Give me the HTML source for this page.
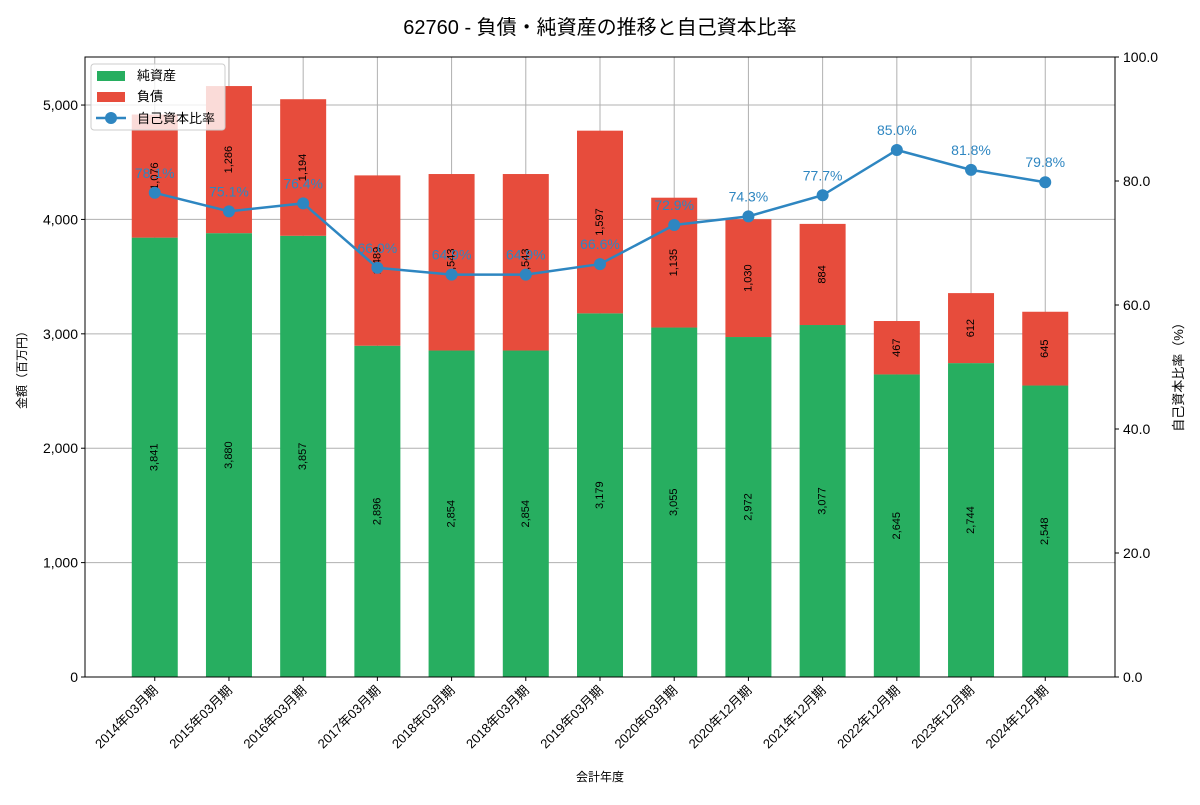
<!DOCTYPE html>
<html><head><meta charset="utf-8"><style>
body{margin:0;background:#fff;}
svg text{font-family:"Liberation Sans","Noto Sans CJK JP",sans-serif;}
</style></head><body>
<svg id="c" width="1200" height="800" xmlns="http://www.w3.org/2000/svg">
<text x="600" y="34" text-anchor="middle" font-size="20">62760 - 負債・純資産の推移と自己資本比率</text>
<g id="grid"></g><g id="bars"></g><g id="line"></g><g id="axes"></g>
</svg>
<script>
const categories=["2014年03月期","2015年03月期","2016年03月期","2017年03月期","2018年03月期","2018年03月期","2019年03月期","2020年03月期","2020年12月期","2021年12月期","2022年12月期","2023年12月期","2024年12月期"];
const equity=[3841,3880,3857,2896,2854,2854,3179,3055,2972,3077,2645,2744,2548];
const debt=[1076,1286,1194,1489,1543,1543,1597,1135,1030,884,467,612,645];
const ratio=[78.1,75.1,76.4,66.0,64.9,64.9,66.6,72.9,74.3,77.7,85.0,81.8,79.8];
const leftTicks=[0,1000,2000,3000,4000,5000];
const rightTicks=[0,20,40,60,80,100];
const L=85,R=1115,T=57,B=677;
const NS="http://www.w3.org/2000/svg";
const x=i=>L+(i+0.94)*(R-L)/13.88;
const y=v=>B-v*(B-T)/5420;
const yr=v=>B-v*(B-T)/100;
const bw=46;
function mk(tag,attrs,parent,txt){const e=document.createElementNS(NS,tag);for(const k in attrs)e.setAttribute(k,attrs[k]);if(txt!==undefined)e.textContent=txt;document.getElementById(parent)?document.getElementById(parent).appendChild(e):parent.appendChild(e);return e;}
const fmt=v=>v.toLocaleString("en-US");
// grid
leftTicks.forEach(t=>{const g=mk("line",{x1:L,x2:R,y1:y(t),y2:y(t),stroke:"#b0b0b0","stroke-width":1},"grid");

});
categories.forEach((c,i)=>{const g=mk("line",{x1:x(i),x2:x(i),y1:T,y2:B,stroke:"#b0b0b0","stroke-width":1},"grid");

});
// bars
categories.forEach((c,i)=>{
const r1=mk("rect",{x:x(i)-bw/2,y:y(equity[i]),width:bw,height:B-y(equity[i]),fill:"#27ae60"},"bars");


const r2=mk("rect",{x:x(i)-bw/2,y:y(equity[i]+debt[i]),width:bw,height:y(equity[i])-y(equity[i]+debt[i]),fill:"#e74c3c"},"bars");


const ye=y(equity[i]/2),yd=y(equity[i]+debt[i]/2);
const t1=mk("text",{x:x(i),y:ye,"font-size":11,"text-anchor":"middle","dominant-baseline":"central",transform:`rotate(-90 ${x(i)} ${ye})`},"bars",fmt(equity[i]));


const t2=mk("text",{x:x(i),y:yd,"font-size":11,"text-anchor":"middle","dominant-baseline":"central",transform:`rotate(-90 ${x(i)} ${yd})`},"bars",fmt(debt[i]));


});
// line
const pl=mk("polyline",{points:ratio.map((v,i)=>x(i)+","+yr(v)).join(" "),fill:"none",stroke:"#2e86c1","stroke-width":2.5},"line");


ratio.forEach((v,i)=>{
const c=mk("circle",{cx:x(i),cy:yr(v),r:6,fill:"#2e86c1"},"line");


const t=mk("text",{x:x(i),y:yr(v)-15,"font-size":14,fill:"#2e86c1","text-anchor":"middle"},"line",v.toFixed(1)+"%");


});
// axes
const fr=mk("rect",{x:L,y:T,width:R-L,height:B-T,fill:"none",stroke:"#000","stroke-width":1},"axes");


leftTicks.forEach(t=>{
const l=mk("line",{x1:L-4,x2:L,y1:y(t),y2:y(t),stroke:"#000"},"axes");


const tx=mk("text",{x:L-7,y:y(t)+5,"font-size":14,"text-anchor":"end"},"axes",fmt(t));


});
rightTicks.forEach(t=>{
const l=mk("line",{x1:R,x2:R+4,y1:yr(t),y2:yr(t),stroke:"#000"},"axes");


const tx=mk("text",{x:R+8,y:yr(t)+5,"font-size":14},"axes",t.toFixed(1));


});
categories.forEach((c,i)=>{
const l=mk("line",{x1:x(i),x2:x(i),y1:B,y2:B+4,stroke:"#000"},"axes");


const tx=mk("text",{x:x(i)+4,y:B+14,"font-size":13,"text-anchor":"end",transform:`rotate(-45 ${x(i)+4} ${B+14})`},"axes",c);


});
</script>
<svg style="position:absolute;left:0;top:0" width="1200" height="800" xmlns="http://www.w3.org/2000/svg">
<text x="600" y="781" text-anchor="middle" font-size="12">会計年度</text>
<text x="26" y="367" text-anchor="middle" font-size="12" transform="rotate(-90 26 367)">金額（百万円）</text>
<text x="1183" y="374" text-anchor="middle" font-size="13" transform="rotate(-90 1183 374)">自己資本比率（%）</text>
<g>
<rect x="91" y="64" width="134" height="66" rx="3" fill="#fff" fill-opacity="0.8" stroke="#ccc"/>
<rect x="97" y="71" width="28" height="10" fill="#27ae60"/>
<text x="137" y="80" font-size="13">純資産</text>
<rect x="97" y="92" width="28" height="10" fill="#e74c3c"/>
<text x="137" y="101" font-size="13">負債</text>
<line x1="96" x2="126" y1="118" y2="118" stroke="#2e86c1" stroke-width="2.5"/>
<circle cx="111" cy="118" r="6" fill="#2e86c1"/>
<text x="137" y="123" font-size="13">自己資本比率</text>
</g>
</svg>
</body></html>
